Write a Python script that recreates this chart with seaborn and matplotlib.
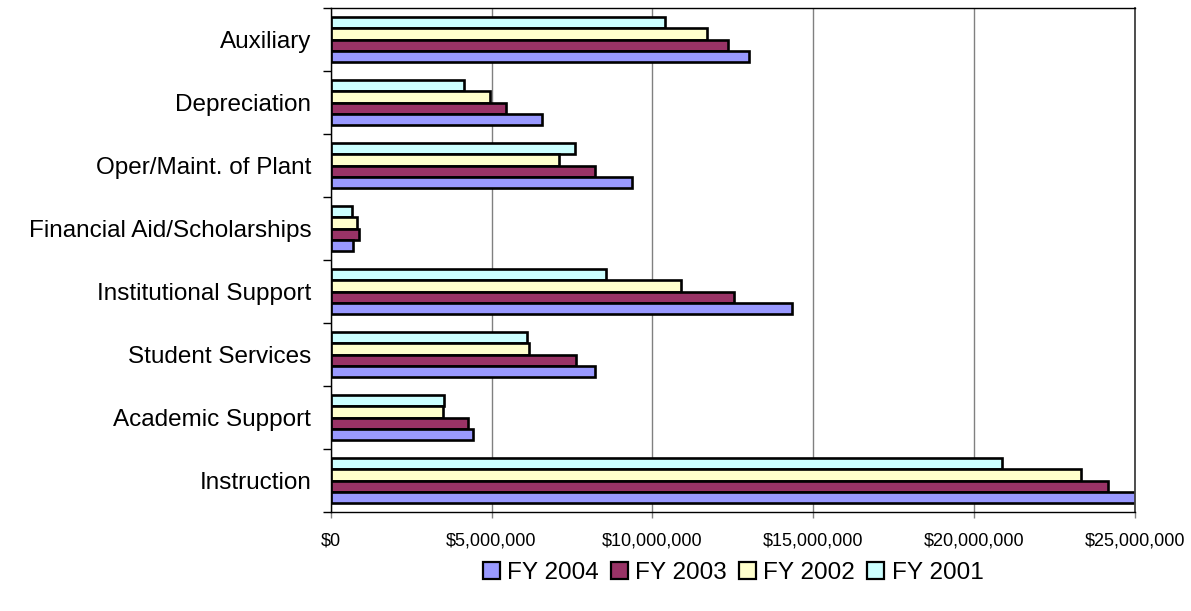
import numpy as np
import pandas as pd
import matplotlib
matplotlib.use("Agg")
import matplotlib.pyplot as plt
import seaborn as sns
from matplotlib.patches import Patch
from matplotlib.ticker import FuncFormatter, MultipleLocator

# ==========================================
# Data (values in $ millions)
# ==========================================
categories = ["Auxiliary", "Depreciation", "Oper/Maint. of Plant",
              "Financial Aid/Scholarships", "Institutional Support",
              "Student Services", "Academic Support", "Instruction"]
years = ["FY 2001", "FY 2002", "FY 2003", "FY 2004"]

fy2001 = [10.39, 4.15, 7.59, 0.65, 8.56, 6.11, 3.51, 20.86]
fy2002 = [11.69, 4.96, 7.09, 0.81, 10.90, 6.15, 3.48, 23.33]
fy2003 = [12.35, 5.44, 8.22, 0.88, 12.54, 7.63, 4.28, 24.16]
fy2004 = [12.99, 6.56, 9.38, 0.68, 14.34, 8.21, 4.43, 25.20]

year_colors = {"FY 2001": "#CCFFFF", "FY 2002": "#FFFFCC",
               "FY 2003": "#993366", "FY 2004": "#9999FF"}

rows = []
for year, vals in zip(years, [fy2001, fy2002, fy2003, fy2004]):
    for cat, v in zip(categories, vals):
        rows.append({"category": cat, "year": year, "value": v * 1e6})
df = pd.DataFrame(rows)

# ==========================================
# Plot
# ==========================================
plt.rcParams["font.family"] = ["Liberation Sans", "DejaVu Sans"]

fig = plt.figure(figsize=(11.91, 6.11), dpi=100)
ax = fig.add_axes([330.7 / 1191, 1 - 512 / 611, (1135 - 330.7) / 1191, 504 / 611])

sns.barplot(
    data=df, x="value", y="category", hue="year",
    order=categories, hue_order=years, palette=year_colors,
    orient="h", width=0.714, saturation=1, errorbar=None,
    edgecolor="black", linewidth=1.9, legend=False, ax=ax
)

ax.set_xlim(0, 25e6)
ax.xaxis.set_major_locator(MultipleLocator(5e6))
ax.xaxis.set_major_formatter(FuncFormatter(lambda v, p: f"${v:,.0f}"))
ax.set_axisbelow(True)
ax.xaxis.grid(True, color="#808080", linewidth=1)
ax.yaxis.grid(False)

ax.set_xlabel("")
ax.set_ylabel("")

# category boundary ticks, labels at centres without ticks
ax.set_yticks(np.arange(-0.5, len(categories), 1), minor=True)
ax.tick_params(axis="y", which="major", length=0, pad=14, labelsize=17.5)
ax.tick_params(axis="y", which="minor", length=6, width=1, color="black")
ax.tick_params(axis="x", which="major", length=4.5, width=1, pad=10,
               labelsize=13, color="#808080")

for side in ["left", "top", "bottom"]:
    ax.spines[side].set_color("black")
    ax.spines[side].set_linewidth(1)
ax.spines["right"].set_color("#404040")
ax.spines["right"].set_linewidth(1.3)

# legend in reverse order, like the original
legend_order = ["FY 2004", "FY 2003", "FY 2002", "FY 2001"]
handles = [Patch(facecolor=year_colors[y], edgecolor="black", linewidth=1.6)
           for y in legend_order]
fig.legend(handles, legend_order, loc="center",
           bbox_to_anchor=(733 / 1191, 1 - 573 / 611), ncol=4, frameon=False,
           fontsize=17.5, handlelength=0.7, handleheight=0.7,
           handletextpad=0.3, columnspacing=0.5, borderaxespad=0)

fig.savefig("out.png", dpi=100)
